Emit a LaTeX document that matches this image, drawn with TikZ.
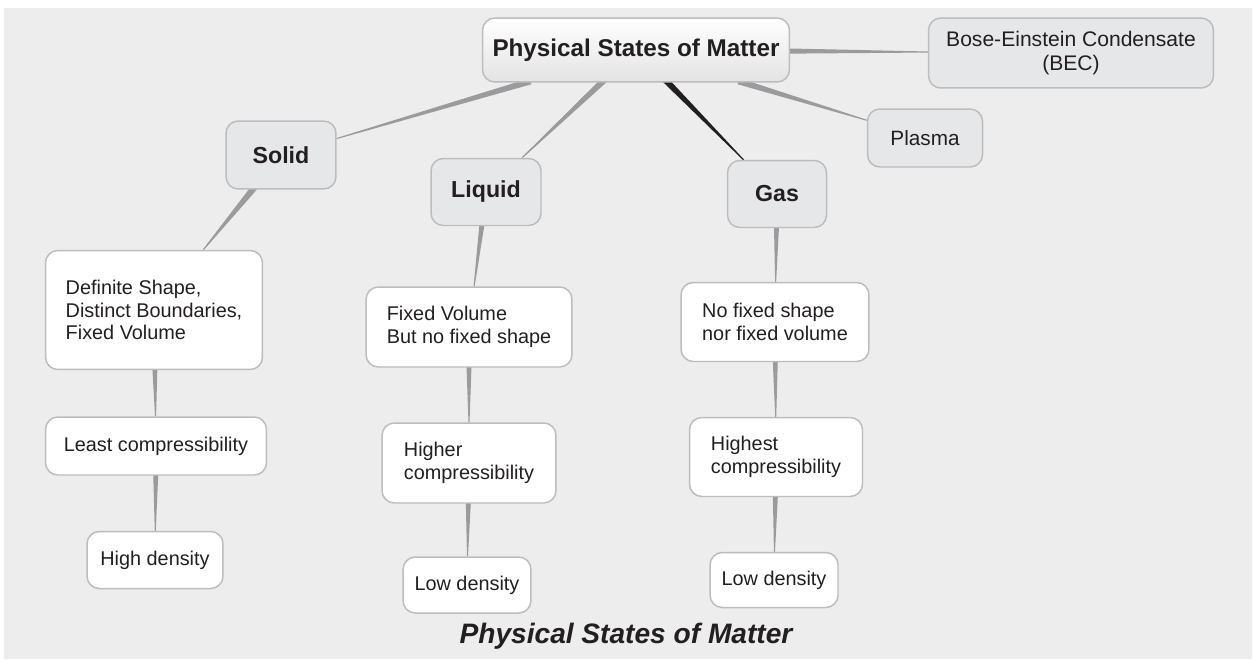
\documentclass[tikz,border=0pt]{standalone}
\usepackage{fontspec}
\setmainfont{Liberation Sans}
\usepackage{tikz}
\usetikzlibrary{calc,backgrounds}
\definecolor{bggray}{HTML}{EDEDED}
\definecolor{boxgray}{HTML}{E6E7E9}
\definecolor{rimgray}{HTML}{BCBDBF}
\definecolor{linkgray}{HTML}{9A9B9D}
\definecolor{inkdark}{HTML}{231F20}

\newcommand{\branch}[4][linkgray]{%
  \path (#2) -- (#3) coordinate[pos=0] (b0) coordinate[pos=1] (b1);
  \coordinate (b2) at ($(b0)!-3pt!(b1)$);
  \fill[#1] ($(b2)!#4!90:(b1)$) -- ($(b1)!0.3pt!-90:(b2)$) -- ($(b1)!0.3pt!90:(b2)$) -- ($(b2)!#4!-90:(b1)$) -- cycle;}

\begin{document}
\begin{tikzpicture}[x=0.02cm,y=-0.02cm]
\tikzstyle{box}=[rectangle,rounded corners=7pt,draw=rimgray,line width=0.85pt,text=inkdark,inner sep=2pt]
\tikzstyle{root}=[box,top color=white,bottom color=black!11,font=\fontsize{13.8}{16}\selectfont\bfseries]
\tikzstyle{state}=[box,fill=boxgray,font=\fontsize{13.2}{15}\selectfont\bfseries]
\tikzstyle{other}=[box,fill=boxgray,align=center,font=\fontsize{12}{13.2}\selectfont]
\tikzstyle{fact}=[box,fill=white,align=left,font=\fontsize{11.3}{12.7}\selectfont]
\useasboundingbox (0,0) rectangle (1253,659);

\node[root,minimum width=6.14cm,minimum height=1.28cm] (matter) at (636,50) {Physical States of Matter};
\node[other,minimum width=5.7cm,minimum height=1.4cm] (bec) at (1071,53) {Bose-Einstein Condensate\\(BEC)};
\node[other,minimum width=2.3cm,minimum height=1.16cm,font=\fontsize{11.8}{13}\selectfont] (plasma) at (925,138) {Plasma};
\node[state,minimum width=2.2cm,minimum height=1.36cm] (solid) at (281,155) {Solid};
\node[state,minimum width=2.2cm,minimum height=1.34cm] (liquid) at (486,192) {Liquid};
\node[state,minimum width=1.98cm,minimum height=1.34cm] (gas) at (777,194) {Gas};

\node[fact,minimum width=4.34cm,minimum height=2.38cm] (s_1) at (154,310) {Definite Shape,\\Distinct Boundaries,\\Fixed Volume};
\node[fact,minimum width=4.42cm,minimum height=1.16cm] (s_2) at (156,446) {Least compressibility};
\node[fact,minimum width=2.72cm,minimum height=1.14cm] (s_3) at (155,560) {High density};

\node[fact,minimum width=4.12cm,minimum height=1.6cm] (l_1) at (469,327) {Fixed Volume\\But no fixed shape};
\node[fact,minimum width=3.48cm,minimum height=1.6cm] (l_2) at (469,463) {Higher\\compressibility};
\node[fact,minimum width=2.56cm,minimum height=1.12cm] (l_3) at (467,585) {Low density};

\node[fact,minimum width=3.76cm,minimum height=1.58cm] (g_1) at (775,322) {No fixed shape\\nor fixed volume};
\node[fact,minimum width=3.46cm,minimum height=1.58cm] (g_2) at (776,457) {Highest\\compressibility};
\node[fact,minimum width=2.56cm,minimum height=1.1cm] (g_3) at (774,580) {Low density};

\node[text=inkdark,font=\fontsize{16}{18}\selectfont\bfseries\itshape] (caption) at (626,636) {Physical States of Matter};

\begin{pgfonlayer}{background}
\fill[bggray] (4,8) rectangle (1252,659);
\branch{matter}{solid}{1.8pt}
\branch{matter}{liquid}{1.8pt}
\branch[inkdark]{matter}{gas}{1.8pt}
\branch{matter}{plasma}{1.8pt}
\branch{matter}{bec}{1.5pt}
\branch{solid}{s_1}{1.9pt}
\branch{liquid}{l_1}{1.5pt}
\branch{gas}{g_1}{1.5pt}
\branch{s_1}{s_2}{1.5pt}
\branch{s_2}{s_3}{1.5pt}
\branch{l_1}{l_2}{1.5pt}
\branch{l_2}{l_3}{1.5pt}
\branch{g_1}{g_2}{1.5pt}
\branch{g_2}{g_3}{1.5pt}
\end{pgfonlayer}
\end{tikzpicture}
\end{document}
